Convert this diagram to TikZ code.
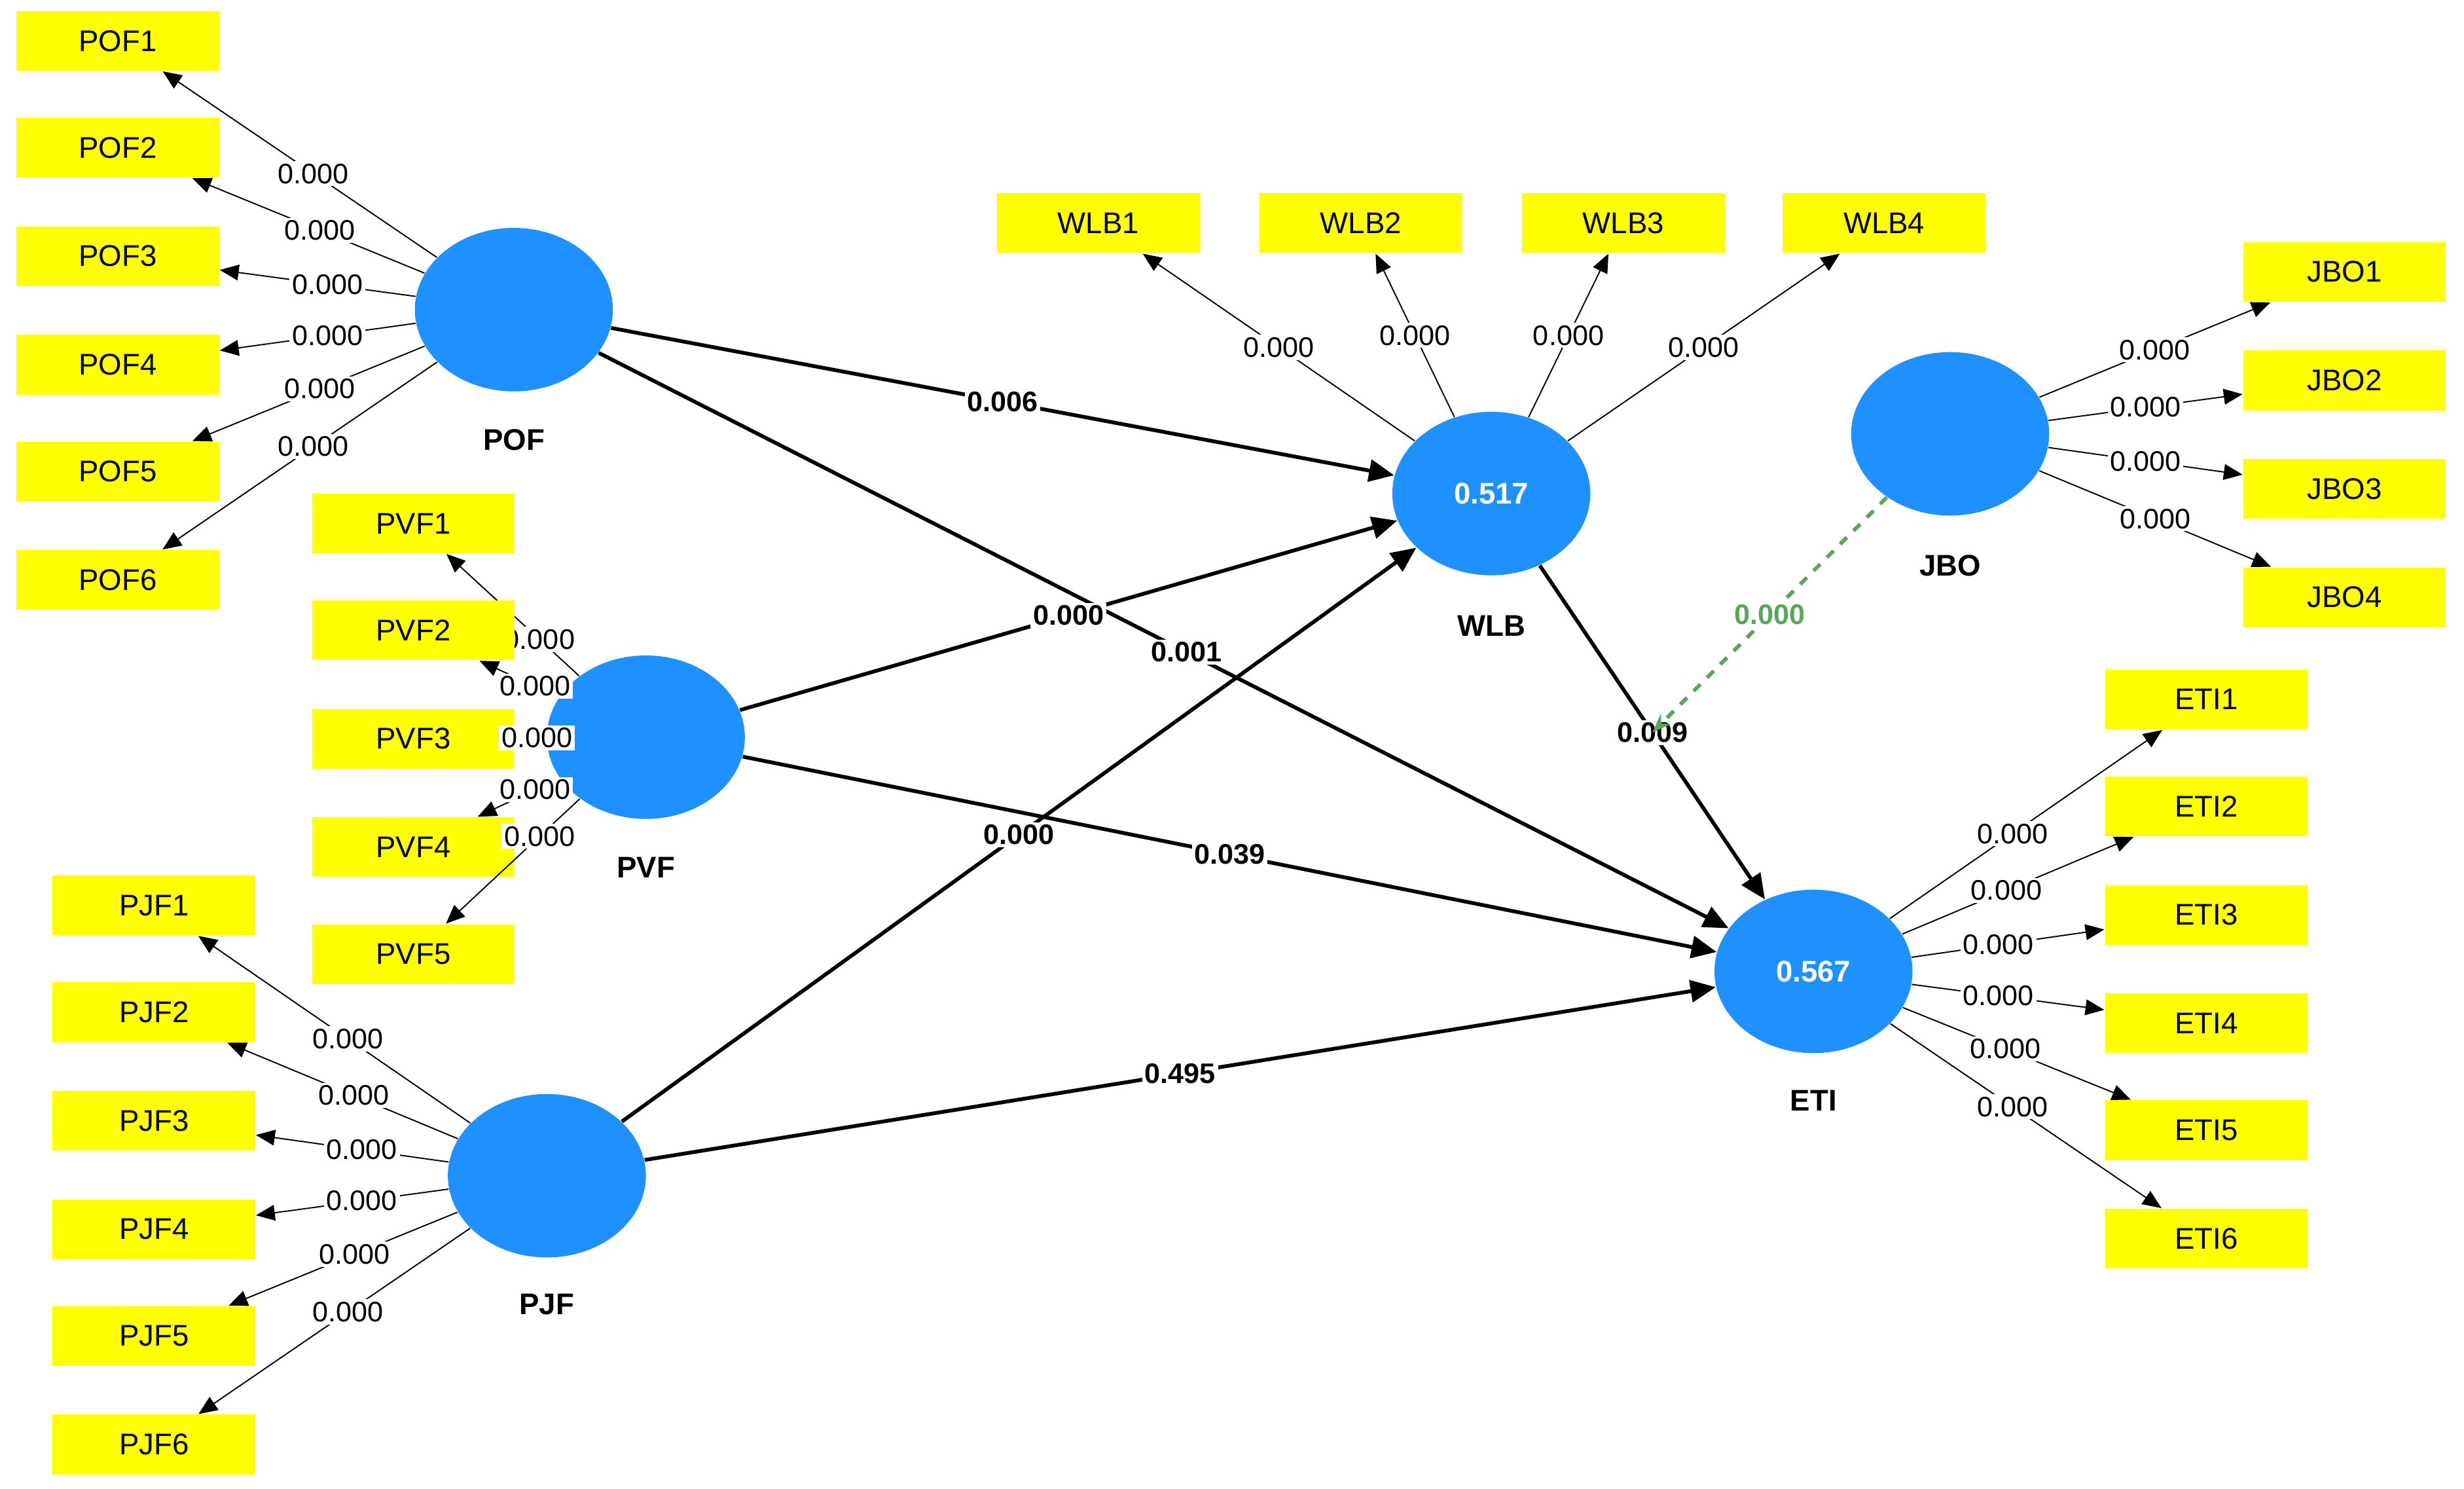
\documentclass[tikz,border=0pt]{standalone}
\usepackage{fontspec}
\setmainfont{Liberation Sans}
\usetikzlibrary{arrows.meta}
\definecolor{lv}{RGB}{30,144,255}
\definecolor{ind}{RGB}{255,255,0}
\begin{document}
\begin{tikzpicture}[x=0.5pt,y=-0.5pt,
 box/.style={fill=ind,minimum width=64.5pt,minimum height=19pt,inner sep=0pt,font=\fontsize{9.5}{10}\selectfont},
 lat/.style={ellipse,fill=lv,minimum width=63pt,minimum height=52pt,inner sep=0pt,text=white,font=\bfseries\fontsize{9.5}{10}\selectfont},
 lab/.style={font=\bfseries\fontsize{9.5}{10}\selectfont},
 ld/.style={-{Triangle[length=6pt,width=5pt]},line width=0.4pt},
 ll/.style={fill=white,inner sep=0.8pt,font=\fontsize{9}{10}\selectfont},
 pth/.style={-{Triangle[length=8pt,width=7pt]},line width=1.2pt},
 pl/.style={fill=white,inner sep=0.8pt,font=\bfseries\fontsize{9}{10}\selectfont}]
\useasboundingbox (0,0) rectangle (1568,947);
\usetikzlibrary{shapes.geometric}
\node[lat] (POF) at (327,197) {}; \node[lab] at (327,280) {POF};
\node[lat] (PVF) at (411,469) {}; \node[lab] at (411,552) {PVF};
\node[lat] (PJF) at (348,748) {}; \node[lab] at (348,830) {PJF};
\node[lat] (WLB) at (949,314) {0.517}; \node[lab] at (949,398) {WLB};
\node[lat] (JBO) at (1241,276) {}; \node[lab] at (1241,360) {JBO};
\node[lat] (ETI) at (1154,618) {0.567}; \node[lab] at (1154,700) {ETI};
\foreach \i/\y in {1/26,2/94,3/163,4/232,5/300,6/369}{
 \node[box] (POF\i) at (75,\y) {POF\i};
 \draw[ld] (POF) -- (POF\i) node[ll,pos=0.45] {0.000};
 \node[box] (PJF\i) at (98,\y+550) {PJF\i};
 \draw[ld] (PJF) -- (PJF\i) node[ll,pos=0.45] {0.000};
 \node[box] (ETI\i) at (1404,\y+419) {ETI\i};
 \draw[ld] (ETI) -- (ETI\i) node[ll,pos=0.45] {0.000};}
\foreach \i/\y in {1/333,2/401,3/470,4/539,5/607}{
 \node[box] (PVF\i) at (263,\y) {PVF\i};
 \draw[ld] (PVF) -- (PVF\i) node[ll,pos=0.3] {0.000};}
\foreach \i/\x in {1/699,2/866,3/1033,4/1199}{
 \node[box] (WLB\i) at (\x,142) {WLB\i};
 \draw[ld] (WLB) -- (WLB\i) node[ll,pos=0.5] {0.000};}
\foreach \i/\y in {1/173,2/242,3/311,4/380}{
 \node[box] (JBO\i) at (1492,\y) {JBO\i};
 \draw[ld] (JBO) -- (JBO\i) node[ll,pos=0.5] {0.000};}
\draw[pth] (POF) -- (WLB) node[pl,pos=0.5] {0.006};
\draw[pth] (POF) -- (ETI) node[pl,pos=0.52] {0.001};
\draw[pth] (PVF) -- (WLB) node[pl,pos=0.5] {0.000};
\draw[pth] (PVF) -- (ETI) node[pl,pos=0.5] {0.039};
\draw[pth] (PJF) -- (WLB) node[pl,pos=0.5] {0.000};
\draw[pth] (PJF) -- (ETI) node[pl,pos=0.5] {0.495};
\draw[pth] (WLB) -- (ETI) coordinate[pos=0.5] (mod) node[pl,pos=0.5] {0.009};
\draw[-{Stealth[length=6pt]},dashed,line width=1.2pt,gray!70!green] (JBO) -- (mod) node[pl,pos=0.5,text=gray!70!green] {0.000};
\end{tikzpicture}
\end{document}
